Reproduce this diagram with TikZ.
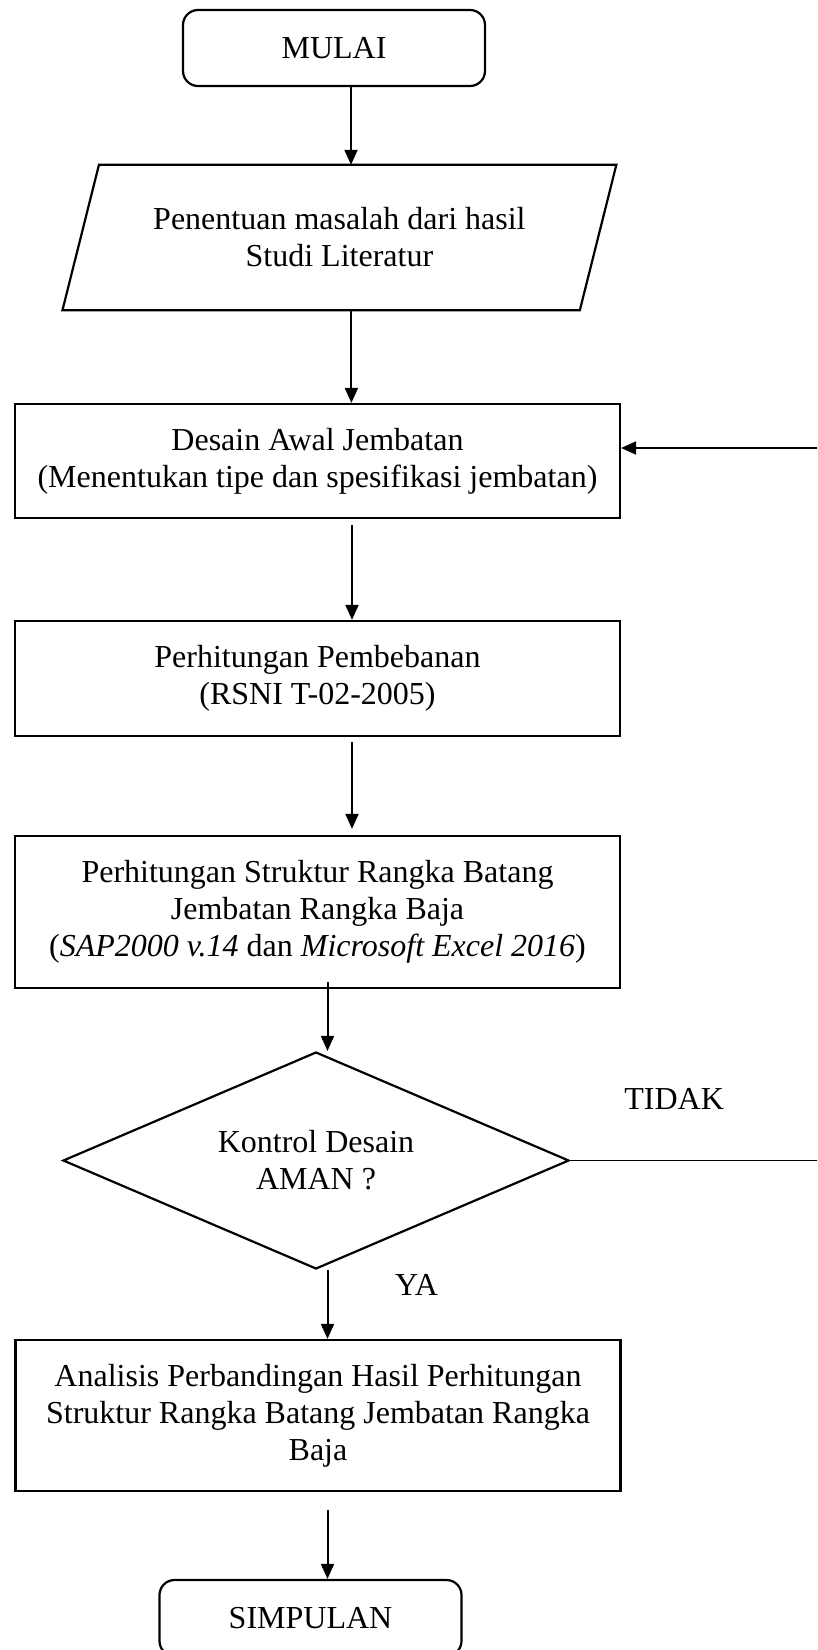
\documentclass[tikz,border=0pt]{standalone}
\usepackage{fontspec}
\setmainfont{Liberation Serif}
\usepackage{tikz}
\usetikzlibrary{shapes.geometric, arrows.meta}
\tikzstyle{startstop} = [rectangle, rounded corners=15pt, minimum width=302pt, minimum height=76pt, align=center, draw=black, line width=2.2pt]
\tikzstyle{io} = [rectangle, minimum width=517pt, minimum height=145pt, align=center]
\tikzstyle{ioframe} = [draw=black, line width=2.2pt, line join=miter]
\tikzstyle{process} = [rectangle, minimum width=605pt, minimum height=114pt, align=center, draw=black, line width=2.2pt]
\tikzstyle{decision} = [diamond, aspect=2.33, minimum width=506pt, minimum height=217pt, inner sep=0pt, align=center, draw=black, line width=2.2pt]
\tikzstyle{arrow} = [line width=2pt,->,>={Triangle[length=15pt,width=13pt]}]
\tikzstyle{thinline} = [line width=1.2pt]

\begin{document}
\begin{tikzpicture}[node distance=220pt, font=\fontsize{32}{37}\selectfont]
        \useasboundingbox (0,0) rectangle (817pt,-1650pt);
        \clip (0,0) rectangle (817pt,-1650pt);

        \node (start) [startstop] at (334pt,-48pt) {MULAI};
        \node (in1) [io, node distance=189.5pt, below of=start, xshift=5.4pt] {Penentuan masalah dari hasil\\Studi Literatur};
        \node (pro1) [process, node distance=223.5pt, below of=in1, xshift=-21.9pt] {Desain Awal Jembatan\\(Menentukan tipe dan spesifikasi jembatan)};
        \node (pro2) [process, node distance=217.5pt, below of=pro1, minimum height=115pt] {Perhitungan Pembebanan\\(RSNI T-02-2005)};
        \node (pro3) [process, node distance=233.5pt, below of=pro2, minimum height=152pt] {Perhitungan Struktur Rangka Batang\\Jembatan Rangka Baja\\(\textit{SAP2000 v.14} dan \textit{Microsoft Excel 2016})};
        \node (dec1) [decision, node distance=248.5pt, below of=pro3, xshift=-1.5pt] {Kontrol Desain\\AMAN ?};
        \node (pro4) [process, node distance=255pt, below of=dec1, xshift=2pt, minimum height=151pt] {Analisis Perbandingan Hasil Perhitungan\\Struktur Rangka Batang Jembatan Rangka\\Baja};
        \node (stop) [startstop, node distance=202.5pt, below of=pro4, xshift=-7.5pt] {SIMPULAN};

        % parallelogram frame
        \draw [ioframe] ([xshift=18.25pt]in1.north west) -- ([xshift=18.25pt]in1.north east) -- ([xshift=-18.25pt]in1.south east) -- ([xshift=-18.25pt]in1.south west) -- cycle;

        \node (no) at ([shift={(104pt,61.5pt)}]dec1.east) {TIDAK};
        \node (yes) at ([shift={(100.5pt,-15pt)}]dec1.south) {YA};
        \coordinate (loop) at (830pt,-448pt);

        \draw [arrow] ([xshift=17pt]start.south) -- ([xshift=17pt]start.south |- in1.north);
        \draw [arrow] ([xshift=12pt]in1.south) -- ([xshift=12pt]in1.south |- pro1.north);
        \draw [arrow, shorten <=6pt] ([xshift=34.5pt]pro1.south) -- ([xshift=34.5pt]pro1.south |- pro2.north);
        \draw [arrow, shorten <=5pt, shorten >=6pt] ([xshift=34.5pt]pro2.south) -- ([xshift=34.5pt]pro2.south |- pro3.north);
        \draw [arrow, shorten <=-7pt] ([xshift=10pt]pro3.south) -- ([xshift=10pt]pro3.south |- dec1.north);
        \draw [arrow] ([xshift=11.5pt]dec1.south) -- ([xshift=11.5pt]dec1.south |- pro4.north);
        \draw [arrow, shorten <=18pt] ([xshift=9.5pt]pro4.south) -- ([xshift=9.5pt]pro4.south |- stop.north);
        \draw [thinline] (dec1.east) -| (loop);
        \draw [arrow] (loop) -- (loop -| pro1.east);
    \end{tikzpicture}
\end{document}
